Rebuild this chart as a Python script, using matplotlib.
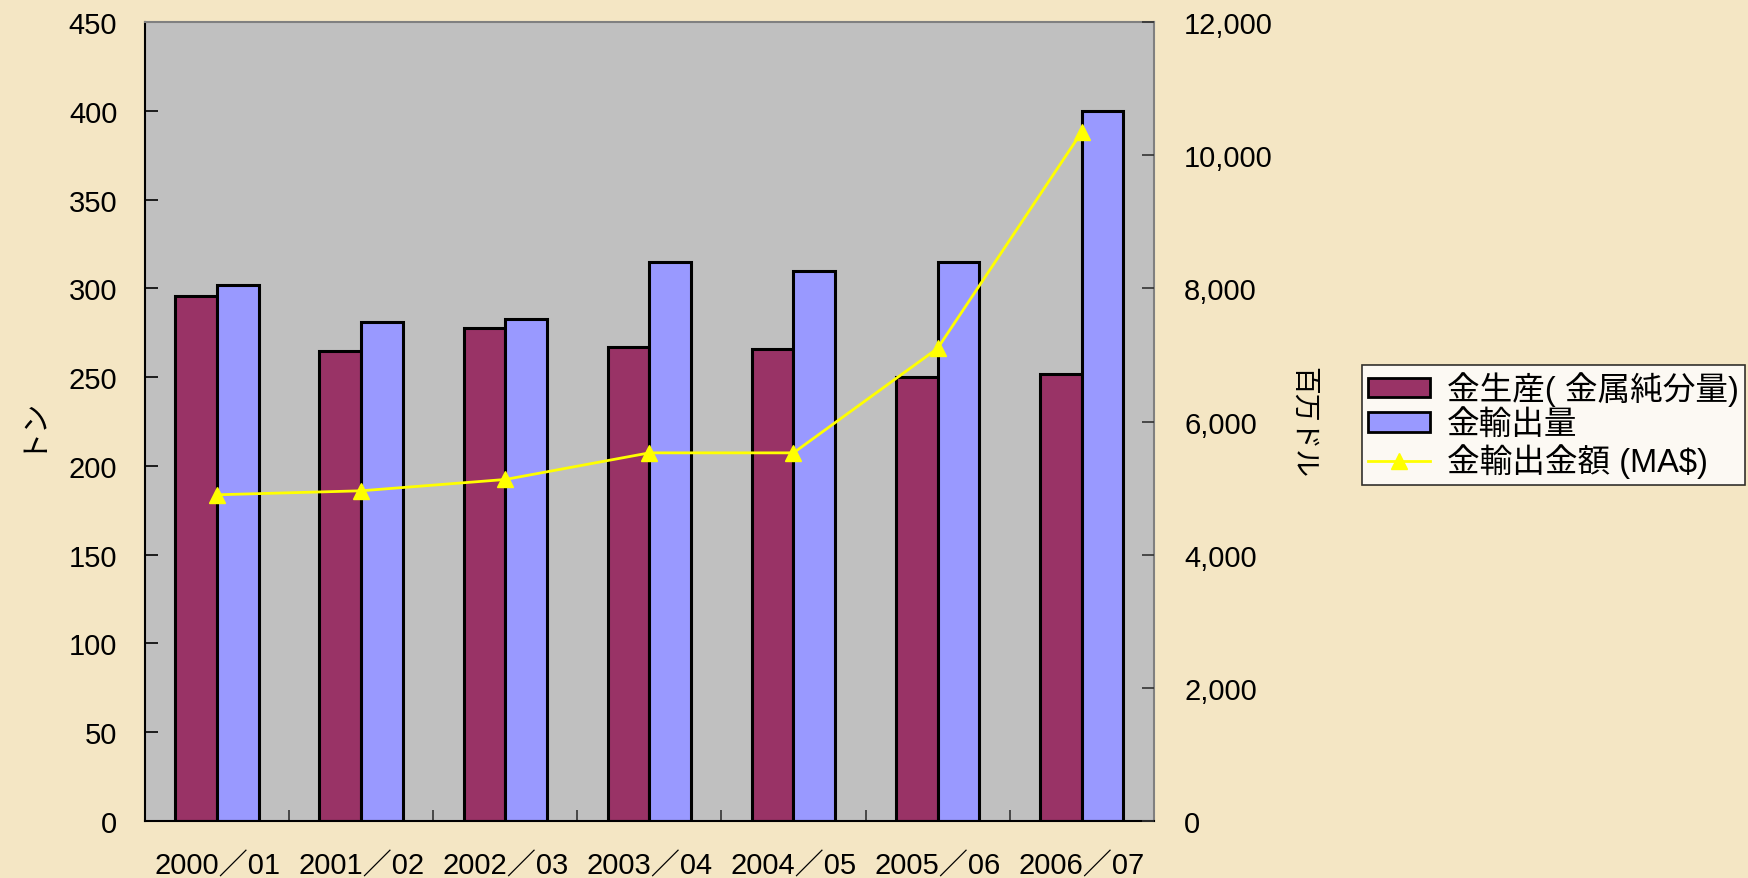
import numpy as np
import matplotlib.pyplot as plt
from matplotlib.patches import Patch
from matplotlib.lines import Line2D

plt.rcParams['font.family'] = ['Liberation Sans', 'Noto Sans CJK JP', 'DejaVu Sans']

# Data
years = ['2000／01', '2001／02', '2002／03', '2003／04', '2004／05', '2005／06', '2006／07']
production = [296, 265, 278, 267, 266, 250, 252]      # トン
exports = [302, 281, 283, 315, 310, 315, 400]         # トン
export_value = [4900, 4960, 5130, 5530, 5530, 7100, 10350]  # 百万ドル

bg = '#F4E6C4'
fig = plt.figure(figsize=(17.48, 8.79), dpi=100, facecolor=bg)
ax = fig.add_axes([0.083, 0.065, 0.577, 0.9085])
ax.set_facecolor('#C0C0C0')

x = np.arange(len(years))
w = 0.29
ax.bar(x - w / 2, production, w, color='#993366', edgecolor='black', linewidth=2.2, zorder=2)
ax.bar(x + w / 2, exports, w, color='#9999FF', edgecolor='black', linewidth=2.2, zorder=2)

ax.set_xlim(-0.5, len(years) - 0.5)
ax.set_ylim(0, 450)
ax.set_yticks(range(0, 451, 50))
ax.set_xticks(x)
ax.set_xticklabels(years)
ax.set_xticks(np.arange(-0.5, len(years), 1), minor=True)
ax.tick_params(axis='x', which='major', length=0, pad=22, labelsize=21)
ax.tick_params(axis='x', which='minor', direction='in', length=8, width=1.2, color='#333333')
ax.tick_params(axis='y', direction='in', length=9, width=1.2, pad=20, labelsize=21)
ax.set_ylabel('トン', fontsize=21, rotation=90)
ax.yaxis.set_label_coords(-0.101, 0.5)

for s in ['top', 'right']:
    ax.spines[s].set_color('#808080')
for s in ['left', 'bottom']:
    ax.spines[s].set_color('black')
for s in ax.spines.values():
    s.set_linewidth(1.5)

ax2 = ax.twinx()
ax2.plot(x, export_value, color='#FFFF00', linewidth=2, marker='^', markersize=11, zorder=3)
ax2.set_ylim(0, 12000)
ax2.set_yticks(range(0, 12001, 2000))
ax2.set_yticklabels([f'{v:,}' for v in range(0, 12001, 2000)])
ax2.tick_params(axis='y', direction='in', length=9, width=1.2, pad=22, labelsize=21, color='#333333')
ax2.set_ylabel('百万ドル', fontsize=20, rotation=270, labelpad=0)
ax2.yaxis.set_label_coords(1.16, 0.5)
for s in ax2.spines.values():
    s.set_visible(False)

handles = [
    Patch(facecolor='#993366', edgecolor='black', linewidth=2),
    Patch(facecolor='#9999FF', edgecolor='black', linewidth=2),
    Line2D([], [], color='#FFFF00', linewidth=2, marker='^', markersize=11),
]
labels = ['金生産( 金属純分量)', '金輸出量', '金輸出金額 (MA$)']
leg = fig.legend(handles, labels, loc='upper left', bbox_to_anchor=(0.779, 0.584),
                 fontsize=23.5, frameon=True, fancybox=False, edgecolor='black',
                 facecolor='white', handlelength=1.9, handleheight=0.55,
                 borderpad=0.2, labelspacing=0.1, handletextpad=0.5, borderaxespad=0)
leg.get_frame().set_linewidth(1.2)
for t in leg.get_texts():
    t.set_family(['Liberation Sans', 'Noto Sans CJK JP'])

fig.savefig('out.png', dpi=100, facecolor=bg)
